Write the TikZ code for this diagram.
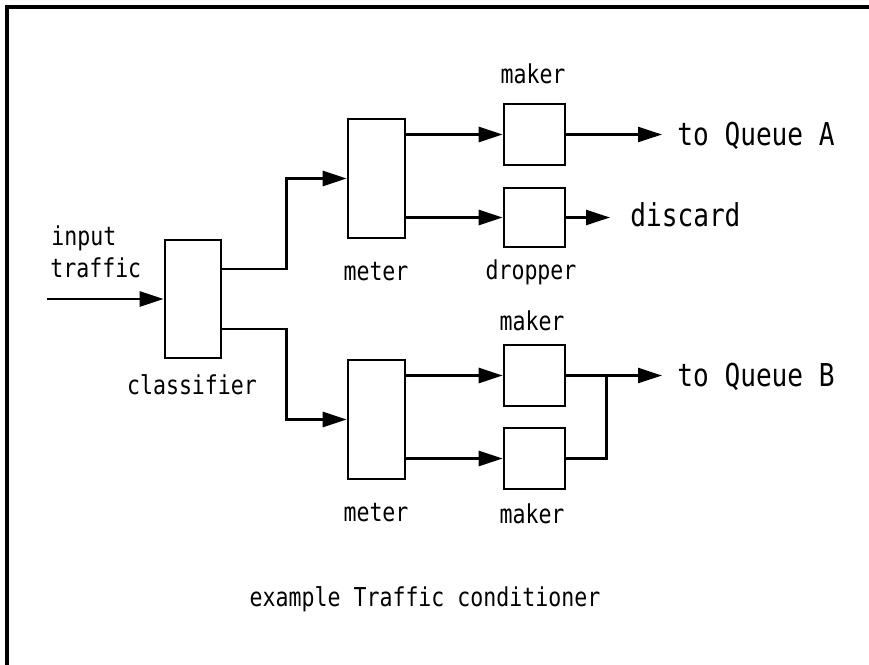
\documentclass[tikz,border=0pt]{standalone}
\usepackage{fontspec}
\newfontfamily\gfont[FakeStretch=0.83]{DejaVu Sans Mono}
\usetikzlibrary{arrows.meta,calc}
\begin{document}
\begin{tikzpicture}[x=1pt,y=-1pt,
  line width=2.6pt,
  blk/.style 2 args={draw, inner sep=0pt, minimum width=#1, minimum height=#2},
  arr/.style={-{Triangle[length=24pt,width=15pt]}},
  lbl/.style={inner sep=0pt, anchor=base, font=\gfont\fontsize{26}{30}\selectfont},
  lbll/.style={inner sep=0pt, anchor=base west, font=\gfont\fontsize{26}{30}\selectfont},
  big/.style={inner sep=0pt, anchor=base west, font=\gfont\fontsize{31.5}{36}\selectfont}]
\useasboundingbox (0,0) rectangle (869,664);
% frame
\draw[line width=3.5pt] (7,670) -- (7,7) -- (875,7);

% blocks
\node[blk={56pt}{118pt}] (cls) at (193,299) {};
\node[blk={57pt}{119pt}] (meterA) at (376.5,178.5) {};
\node[blk={57pt}{119pt}] (meterB) at (376.5,419.5) {};
\node[blk={61pt}{61pt}] (makerA) at (534.5,134.5) {};
\node[blk={61pt}{59pt}] (dropA) at (534.5,217.5) {};
\node[blk={61pt}{61pt}] (makerB1) at (534.5,375.5) {};
\node[blk={61pt}{61pt}] (makerB2) at (534.5,458.5) {};

% labels
\node[lbll] (inp) at (50,245) {input};
\node[lbll] (trf) at (49,277) {traffic};
\node[lbl] (lcls) at (192,394) {classifier};
\node[lbl] (lmA) at (376,280) {meter};
\node[lbl] (lmB) at (376,521) {meter};
\node[lbl] (lkA) at (533,83) {maker};
\node[lbl] (ldA) at (531,279) {dropper};
\node[lbl] (lkB1) at (532,330) {maker};
\node[lbl] (lkB2) at (532,523) {maker};
\node[big] (qA) at (676,145) {to Queue A};
\node[big] (disc) at (629,226) {discard};
\node[big] (qB) at (676,386) {to Queue B};
\node[lbl] (cap) at (425,606) {example Traffic conditioner};

% connectors
\coordinate (in) at (47,299);
\draw[arr] (in) -- (cls.west);
\draw[arr] ($(cls.east)+(0,-30)$) -- ++(64,0) |- (meterA.west);
\draw[arr] ($(cls.east)+(0,30)$) -- ++(64,0) |- (meterB.west);
\draw[arr] (meterA.east |- makerA.west) -- (makerA.west);
\draw[arr] (meterA.east |- dropA.west) -- (dropA.west);
\draw[arr] (meterB.east |- makerB1.west) -- (makerB1.west);
\draw[arr] (meterB.east |- makerB2.west) -- (makerB2.west);
\draw[arr, shorten >=14pt] (makerA.east) -- (makerA.east -| qA.west);
\draw[arr, shorten >=19pt] (dropA.east) -- (dropA.east -| disc.west);
\coordinate (j) at ($(makerB1.east)+(40,0)$);
\draw[arr, shorten >=14pt] (makerB1.east) -- (makerB1.east -| qB.west);
\draw (makerB2.east) -| (j);
\end{tikzpicture}
\end{document}
